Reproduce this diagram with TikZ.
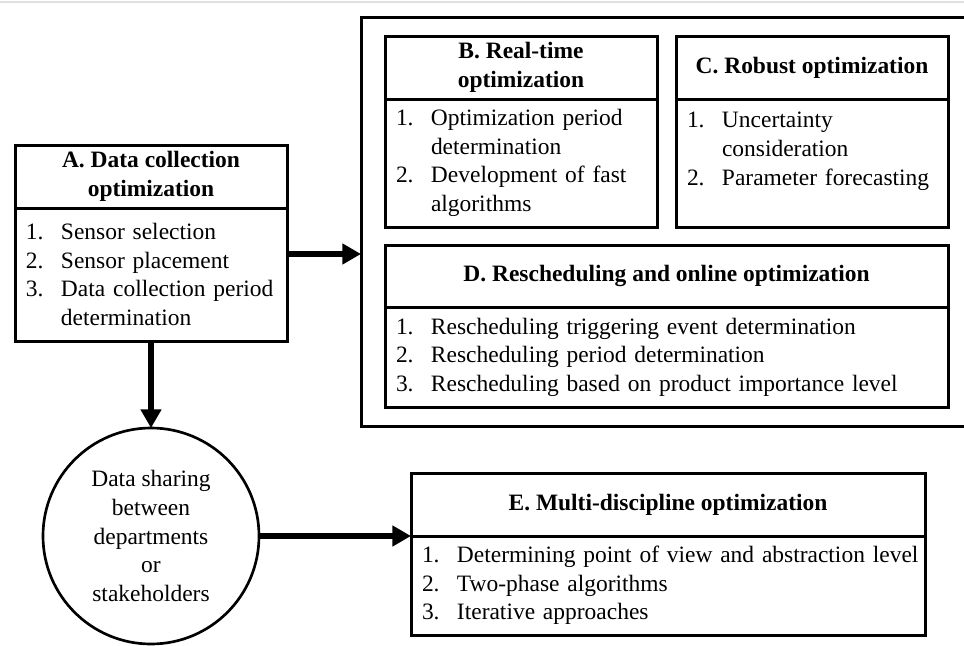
\documentclass[tikz,border=0pt]{standalone}
\usepackage{fontspec}
\setmainfont{Liberation Serif}
\usetikzlibrary{
  arrows.meta,
  positioning,
  fit
}
\newcommand{\itm}[2]{\makebox[26.25pt][l]{#1}\mbox{#2}}
\newcommand{\itmc}[1]{\hspace*{26.25pt}\mbox{#1}}

\begin{document}
\begin{tikzpicture}[
  x=0.75pt, y=-0.75pt,
  font=\fontsize{17.6}{21.4}\selectfont,
  boxline/.style={
    draw=black, line width=2.25pt, fill=white, outer sep=0pt
  },
  headbox/.style={
    boxline, align=center, inner sep=2pt,
    font=\fontsize{17.6}{21.4}\selectfont\bfseries
  },
  bodybox/.style={
    boxline, align=left, inner xsep=8.25pt, inner ysep=2pt,
    text width=#1
  },
  groupframe/.style={
    draw=black, line width=2.25pt, outer sep=0pt,
    inner xsep=18pt, inner ysep=14.25pt
  },
  sharecircle/.style={
    circle, boxline, line width=2pt, align=center,
    minimum size=162pt, inner sep=0pt
  },
  bigarrow/.style={
    line width=4.8pt, -{Triangle[length=14pt,width=15pt]}
  }
]
\useasboundingbox (0,0) rectangle (964,646);
\clip (0,0) rectangle (964,646);
\draw[black!12, line width=1.5pt] (0,2) -- (964,2);

% ---- A: data collection ----
\node[headbox, minimum width=204pt, minimum height=47.25pt, anchor=north west]
  (Ahead) at (15,145) {A. Data collection\\optimization};
\node[bodybox=187.5pt, minimum height=99.75pt, below=0pt of Ahead] (Abody)
  {\itm{1.}{Sensor selection}\\
   \itm{2.}{Sensor placement}\\
   \itm{3.}{Data collection period}\\
   \itmc{determination}};

% ---- B and C ----
\node[headbox, minimum width=204pt, minimum height=47.25pt, anchor=north west]
  (Bhead) at (385,36) {B. Real-time\\optimization};
\node[bodybox=187.5pt, minimum height=96pt, below=0pt of Bhead] (Bbody)
  {\itm{1.}{Optimization period}\\
   \itmc{determination}\\
   \itm{2.}{Development of fast}\\
   \itmc{algorithms}};

\node[headbox, minimum width=204pt, minimum height=47.25pt, right=14.25pt of Bhead]
  (Chead) {C. Robust optimization};
\node[bodybox=187.5pt, minimum height=96pt, below=0pt of Chead] (Cbody)
  {\itm{1.}{Uncertainty}\\
   \itmc{consideration}\\
   \itm{2.}{Parameter forecasting}\\
   \mbox{}};

% ---- D: rescheduling ----
\node[headbox, minimum width=422.25pt, minimum height=46.5pt,
  below=13.5pt of Bbody.south west, anchor=north west]
  (Dhead) {D. Rescheduling and online optimization};
\node[bodybox=405.75pt, minimum height=75pt, below=0pt of Dhead] (Dbody)
  {\itm{1.}{Rescheduling triggering event determination}\\
   \itm{2.}{Rescheduling period determination}\\
   \itm{3.}{Rescheduling based on product importance level}};

% Frame round B, C, D
\node[groupframe, fit=(Bhead)(Cbody)(Dbody)] (frame) {};

% ---- Data sharing ----
\node[sharecircle, below=65.25pt of Abody] (share)
  {Data sharing\\between\\departments\\or\\stakeholders};

% ---- E: multi-discipline ----
\node[headbox, minimum width=385.5pt, minimum height=47.25pt,
  right=114pt of share.east, anchor=south west]
  (Ehead) {E. Multi-discipline optimization};
\node[bodybox=369pt, minimum height=74.25pt, below=0pt of Ehead] (Ebody)
  {\itm{1.}{Determining point of view and abstraction level}\\
   \itm{2.}{Two-phase algorithms}\\
   \itm{3.}{Iterative approaches}};

% Arrows
\coordinate (aout) at ([yshift=-34.5pt]Abody.north east);
\draw[bigarrow] (aout) -- (aout -| frame.west);
\draw[bigarrow] (Abody) -- (share);
\draw[bigarrow] (share) -- (share -| Ehead.south west);

\end{tikzpicture}
\end{document}
